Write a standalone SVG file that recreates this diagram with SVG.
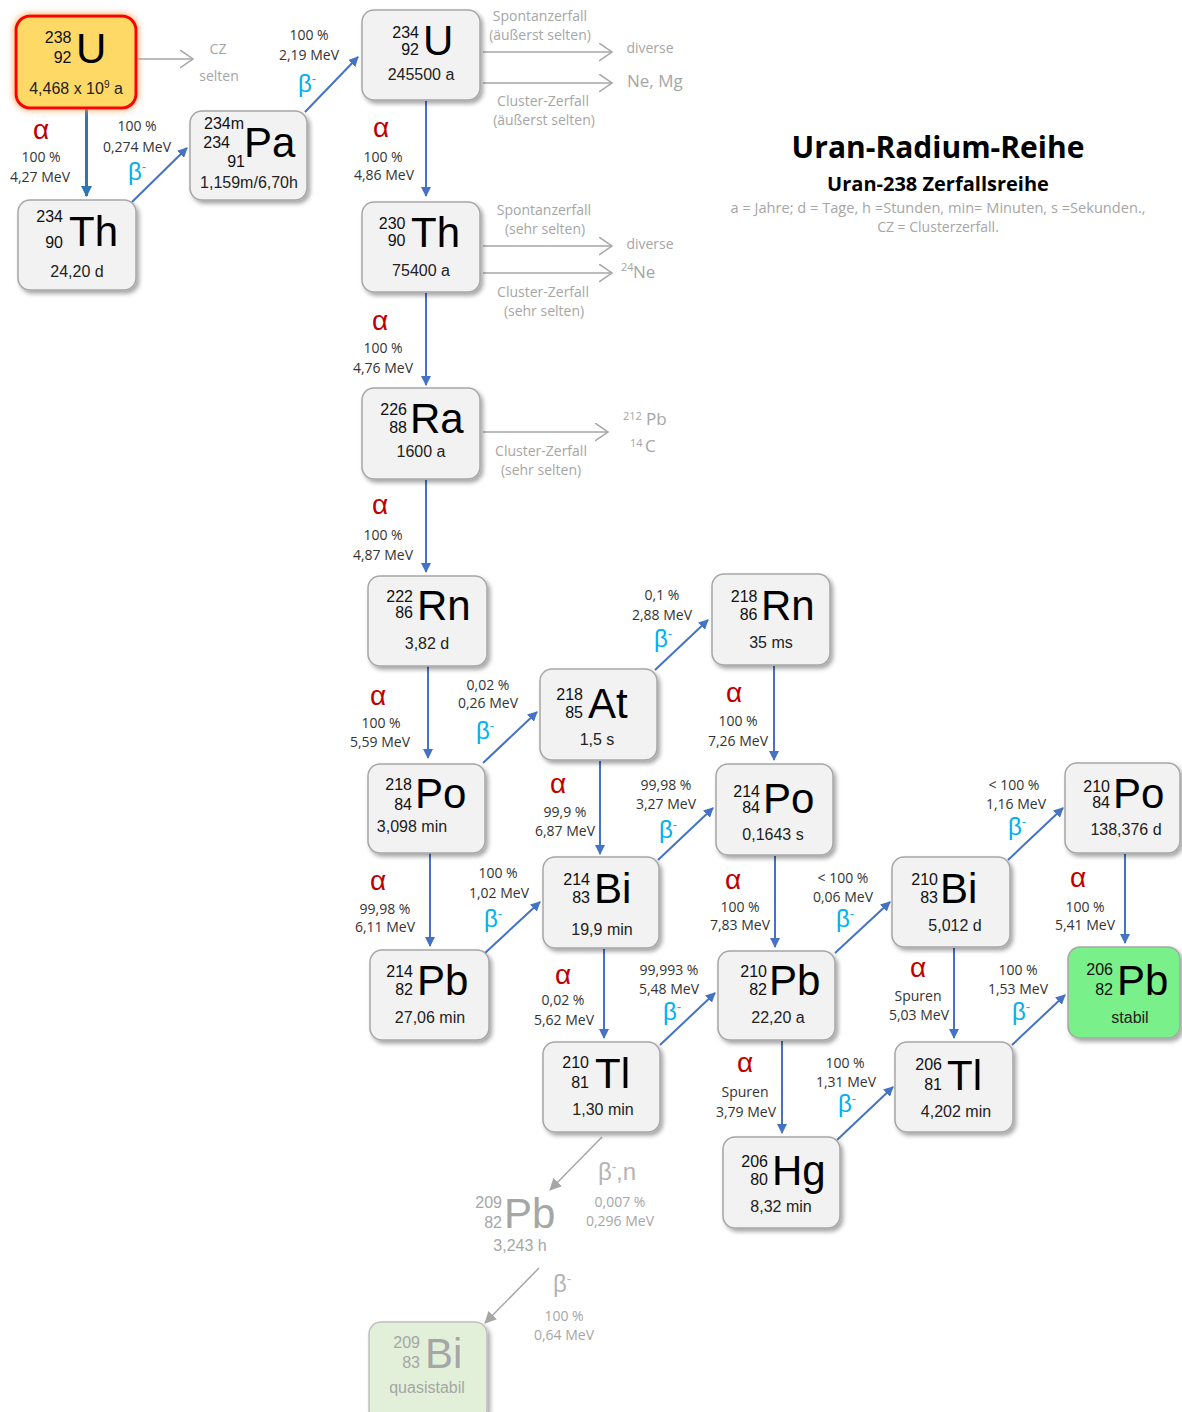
<svg xmlns="http://www.w3.org/2000/svg" width="1182" height="1412" viewBox="0 0 1182 1412">
<defs>
<style>
.box{fill:#F2F2F2;stroke:#A6A6A6;stroke-width:1.5}
.mass{font-family:"Liberation Sans",Arial,sans-serif;font-size:16px;text-anchor:end;fill:#111}
.sym{font-family:"Liberation Sans",Arial,sans-serif;font-size:42px;fill:#000}
.hl{font-family:"Liberation Sans",Arial,sans-serif;font-size:16px;text-anchor:middle;fill:#222}
.lbl{font-family:"Open Sans","Liberation Sans",sans-serif;font-size:14px;text-anchor:middle;fill:#333}
.alpha{font-family:"Liberation Sans",Arial,sans-serif;font-size:28px;text-anchor:middle;fill:#C00000}
.beta{font-family:"Liberation Sans",Arial,sans-serif;font-size:24px;text-anchor:middle;fill:#00B0F0}
.gl{font-family:"Open Sans","Liberation Sans",sans-serif;font-size:14px;text-anchor:middle;fill:#A6A6A6}
.gs{font-family:"Open Sans","Liberation Sans",sans-serif;font-size:17px;fill:#A6A6A6}
.gsup{font-family:"Open Sans","Liberation Sans",sans-serif;font-size:11px;fill:#A6A6A6}
.conn{stroke:#4472C4;stroke-width:2;fill:none}
.gconn{stroke:#A6A6A6;stroke-width:1.5;fill:none}
</style>
<filter id="sh" x="-10%" y="-10%" width="130%" height="130%"><feDropShadow dx="2.5" dy="3" stdDeviation="2" flood-color="#000" flood-opacity="0.35"/></filter>
<filter id="glow" x="-20%" y="-20%" width="140%" height="140%"><feDropShadow dx="0" dy="0" stdDeviation="3.5" flood-color="#F79646" flood-opacity="1"/></filter>
<marker id="ab" markerWidth="10" markerHeight="10" refX="9" refY="5" orient="auto" markerUnits="userSpaceOnUse"><path d="M0,0 L10,5 L0,10 z" fill="#4472C4"/></marker>
<marker id="ab2" markerWidth="11" markerHeight="11" refX="10" refY="5.5" orient="auto" markerUnits="userSpaceOnUse"><path d="M0,0 L11,5.5 L0,11 z" fill="#2E75B6"/></marker>
<marker id="ag" markerWidth="15" markerHeight="20" refX="13" refY="9" orient="auto" markerUnits="userSpaceOnUse"><path d="M0,0 L13,9 L0,18" fill="none" stroke="#A6A6A6" stroke-width="1.5"/></marker>
<marker id="agf" markerWidth="12" markerHeight="12" refX="11" refY="6" orient="auto" markerUnits="userSpaceOnUse"><path d="M0,0 L12,6 L0,12 z" fill="#A6A6A6"/></marker>
</defs>
<rect width="1182" height="1412" fill="#FFFFFF"/>

<g id="title">
<text x="938" y="158" font-family="'Open Sans','Liberation Sans',sans-serif" font-weight="bold" font-size="30" text-anchor="middle" fill="#000">Uran-Radium-Reihe</text>
<text x="938" y="191" font-family="'Open Sans','Liberation Sans',sans-serif" font-weight="bold" font-size="20" text-anchor="middle" fill="#000">Uran-238 Zerfallsreihe</text>
<text x="938" y="213" font-family="'Open Sans','Liberation Sans',sans-serif" font-size="14" text-anchor="middle" fill="#A6A6A6" textLength="415" lengthAdjust="spacingAndGlyphs">a = Jahre; d = Tage, h =Stunden, min= Minuten, s =Sekunden.,</text>
<text x="938" y="232" font-family="'Open Sans','Liberation Sans',sans-serif" font-size="14" text-anchor="middle" fill="#A6A6A6">CZ = Clusterzerfall.</text>
</g>

<g id="connectors">
<line x1="86.5" y1="108" x2="86.5" y2="196" stroke="#2E75B6" stroke-width="3" marker-end="url(#ab2)"/>
<line class="conn" x1="132" y1="202" x2="187" y2="148" marker-end="url(#ab)"/>
<line class="conn" x1="305" y1="112" x2="358" y2="57" marker-end="url(#ab)"/>
<line class="conn" x1="426" y1="101" x2="426" y2="196" marker-end="url(#ab)"/>
<line class="conn" x1="426" y1="293" x2="426" y2="385" marker-end="url(#ab)"/>
<line class="conn" x1="426" y1="480" x2="426" y2="572" marker-end="url(#ab)"/>
<line class="conn" x1="428" y1="666" x2="428" y2="758" marker-end="url(#ab)"/>
<line class="conn" x1="483" y1="763" x2="537" y2="712" marker-end="url(#ab)"/>
<line class="conn" x1="655" y1="670" x2="708" y2="620" marker-end="url(#ab)"/>
<line class="conn" x1="600" y1="761" x2="600" y2="854" marker-end="url(#ab)"/>
<line class="conn" x1="774" y1="666" x2="774" y2="760" marker-end="url(#ab)"/>
<line class="conn" x1="430" y1="853" x2="430" y2="946" marker-end="url(#ab)"/>
<line class="conn" x1="485" y1="953" x2="540" y2="902" marker-end="url(#ab)"/>
<line class="conn" x1="658" y1="860" x2="713" y2="808" marker-end="url(#ab)"/>
<line class="conn" x1="775" y1="856" x2="775" y2="947" marker-end="url(#ab)"/>
<line class="conn" x1="604" y1="949" x2="604" y2="1038" marker-end="url(#ab)"/>
<line class="conn" x1="660" y1="1045" x2="715" y2="993" marker-end="url(#ab)"/>
<line class="conn" x1="835" y1="953" x2="890" y2="902" marker-end="url(#ab)"/>
<line class="conn" x1="782" y1="1041" x2="782" y2="1133" marker-end="url(#ab)"/>
<line class="conn" x1="837" y1="1140" x2="893" y2="1087" marker-end="url(#ab)"/>
<line class="conn" x1="1008" y1="860" x2="1063" y2="808" marker-end="url(#ab)"/>
<line class="conn" x1="954" y1="948" x2="954" y2="1038" marker-end="url(#ab)"/>
<line class="conn" x1="1125" y1="854" x2="1125" y2="943" marker-end="url(#ab)"/>
<line class="conn" x1="1012" y1="1045" x2="1065" y2="995" marker-end="url(#ab)"/>
<line class="gconn" x1="602" y1="1137" x2="550" y2="1190" stroke-width="2" marker-end="url(#agf)"/>
<line class="gconn" x1="539" y1="1268" x2="485" y2="1323" stroke-width="2" marker-end="url(#agf)"/>
<line class="gconn" x1="137" y1="59" x2="193" y2="59" marker-end="url(#ag)"/>
<line class="gconn" x1="483" y1="52" x2="612" y2="52" marker-end="url(#ag)"/>
<line class="gconn" x1="483" y1="83" x2="612" y2="83" marker-end="url(#ag)"/>
<line class="gconn" x1="483" y1="246" x2="612" y2="246" marker-end="url(#ag)"/>
<line class="gconn" x1="483" y1="273" x2="612" y2="273" marker-end="url(#ag)"/>
<line class="gconn" x1="483" y1="432" x2="608" y2="432" marker-end="url(#ag)"/>
</g>

<g id="labels">
<text class="alpha" x="41" y="139">α</text><text class="lbl" x="41" y="162">100 %</text><text class="lbl" x="40" y="182">4,27 MeV</text>
<text class="lbl" x="137" y="131">100 %</text><text class="lbl" x="137" y="152">0,274 MeV</text><text class="beta" x="137" y="180">β<tspan font-size="13" dy="-9">-</tspan></text>
<text class="lbl" x="309" y="40">100 %</text><text class="lbl" x="309" y="60">2,19 MeV</text><text class="beta" x="307" y="92">β<tspan font-size="13" dy="-9">-</tspan></text>
<text class="gl" x="218" y="54">CZ</text><text class="gl" x="219" y="81">selten</text>
<text class="alpha" x="381" y="137">α</text><text class="lbl" x="383" y="162">100 %</text><text class="lbl" x="384" y="180">4,86 MeV</text>
<text class="gl" x="540" y="21">Spontanzerfall</text><text class="gl" x="540" y="40">(äußerst selten)</text><text class="gl" x="650" y="53">diverse</text>
<text class="gs" x="627" y="87">Ne, Mg</text>
<text class="gl" x="543" y="106">Cluster-Zerfall</text><text class="gl" x="544" y="125">(äußerst selten)</text>
<text class="alpha" x="380" y="330">α</text><text class="lbl" x="383" y="353">100 %</text><text class="lbl" x="383" y="373">4,76 MeV</text>
<text class="gl" x="544" y="215">Spontanzerfall</text><text class="gl" x="545" y="234">(sehr selten)</text><text class="gl" x="650" y="249">diverse</text>
<text class="gsup" x="621" y="271">24</text><text class="gs" x="633" y="278">Ne</text>
<text class="gl" x="543" y="297">Cluster-Zerfall</text><text class="gl" x="544" y="316">(sehr selten)</text>
<text class="gsup" x="623" y="420">212</text><text class="gs" x="646" y="425">Pb</text>
<text class="gsup" x="630" y="447">14</text><text class="gs" x="645" y="452">C</text>
<text class="gl" x="541" y="456">Cluster-Zerfall</text><text class="gl" x="541" y="475">(sehr selten)</text>
<text class="alpha" x="380" y="514">α</text><text class="lbl" x="383" y="540">100 %</text><text class="lbl" x="383" y="560">4,87 MeV</text>
<text class="alpha" x="378" y="705">α</text><text class="lbl" x="381" y="728">100 %</text><text class="lbl" x="380" y="747">5,59 MeV</text>
<text class="lbl" x="488" y="690">0,02 %</text><text class="lbl" x="488" y="708">0,26 MeV</text><text class="beta" x="485" y="739">β<tspan font-size="13" dy="-9">-</tspan></text>
<text class="lbl" x="662" y="600">0,1 %</text><text class="lbl" x="662" y="620">2,88 MeV</text><text class="beta" x="663" y="647">β<tspan font-size="13" dy="-9">-</tspan></text>
<text class="alpha" x="558" y="793">α</text><text class="lbl" x="565" y="817">99,9 %</text><text class="lbl" x="565" y="836">6,87 MeV</text>
<text class="alpha" x="734" y="702">α</text><text class="lbl" x="738" y="726">100 %</text><text class="lbl" x="738" y="746">7,26 MeV</text>
<text class="alpha" x="378" y="890">α</text><text class="lbl" x="385" y="914">99,98 %</text><text class="lbl" x="385" y="932">6,11 MeV</text>
<text class="lbl" x="498" y="878">100 %</text><text class="lbl" x="499" y="898">1,02 MeV</text><text class="beta" x="493" y="927">β<tspan font-size="13" dy="-9">-</tspan></text>
<text class="lbl" x="666" y="790">99,98 %</text><text class="lbl" x="666" y="809">3,27 MeV</text><text class="beta" x="668" y="838">β<tspan font-size="13" dy="-9">-</tspan></text>
<text class="alpha" x="733" y="889">α</text><text class="lbl" x="740" y="912">100 %</text><text class="lbl" x="740" y="930">7,83 MeV</text>
<text class="alpha" x="563" y="984">α</text><text class="lbl" x="563" y="1005">0,02 %</text><text class="lbl" x="564" y="1025">5,62 MeV</text>
<text class="lbl" x="669" y="975">99,993 %</text><text class="lbl" x="669" y="994">5,48 MeV</text><text class="beta" x="672" y="1020">β<tspan font-size="13" dy="-9">-</tspan></text>
<text class="lbl" x="843" y="883">&lt; 100 %</text><text class="lbl" x="843" y="902">0,06 MeV</text><text class="beta" x="845" y="927">β<tspan font-size="13" dy="-9">-</tspan></text>
<text class="alpha" x="745" y="1072">α</text><text class="lbl" x="745" y="1097">Spuren</text><text class="lbl" x="746" y="1117">3,79 MeV</text>
<text class="lbl" x="845" y="1068">100 %</text><text class="lbl" x="846" y="1087">1,31 MeV</text><text class="beta" x="847" y="1112">β<tspan font-size="13" dy="-9">-</tspan></text>
<text class="lbl" x="1014" y="790">&lt; 100 %</text><text class="lbl" x="1016" y="809">1,16 MeV</text><text class="beta" x="1017" y="835">β<tspan font-size="13" dy="-9">-</tspan></text>
<text class="alpha" x="918" y="977">α</text><text class="lbl" x="918" y="1001">Spuren</text><text class="lbl" x="919" y="1020">5,03 MeV</text>
<text class="alpha" x="1078" y="887">α</text><text class="lbl" x="1085" y="912">100 %</text><text class="lbl" x="1085" y="930">5,41 MeV</text>
<text class="lbl" x="1018" y="975">100 %</text><text class="lbl" x="1018" y="994">1,53 MeV</text><text class="beta" x="1021" y="1020">β<tspan font-size="13" dy="-9">-</tspan></text>
<text class="beta" x="617" y="1180" style="fill:#B4B4B4">β<tspan font-size="13" dy="-9">-</tspan><tspan dy="9">,n</tspan></text>
<text class="gl" x="620" y="1207">0,007 %</text><text class="gl" x="620" y="1226">0,296 MeV</text>
<text class="beta" x="562" y="1292" style="fill:#B4B4B4">β<tspan font-size="13" dy="-9">-</tspan></text>
<text class="gl" x="564" y="1321">100 %</text><text class="gl" x="564" y="1340">0,64 MeV</text>
</g>

<g id="U238">
<rect x="16" y="16" width="120" height="92" rx="14" fill="#FFD966" stroke="#FF0000" stroke-width="3" filter="url(#glow)"/>
<text class="mass" x="71.5" y="43">238</text><text class="mass" x="71.5" y="63">92</text><text class="sym" x="76" y="63">U</text>
<text class="hl" x="76" y="94">4,468 x 10<tspan font-size="10" dy="-6">9</tspan><tspan dy="6"> a</tspan></text>
</g>
<g id="Th234">
<rect class="box" x="18" y="200" width="118" height="90" rx="12" filter="url(#sh)"/>
<text class="mass" x="63" y="222">234</text><text class="mass" x="63" y="248">90</text><text class="sym" x="69" y="246">Th</text>
<text class="hl" x="77" y="277">24,20 d</text>
</g>
<g id="Pa234">
<rect class="box" x="190" y="111" width="117" height="89" rx="12" filter="url(#sh)"/>
<text class="mass" x="204" y="129" style="text-anchor:start">234m</text><text class="mass" x="230" y="148">234</text><text class="mass" x="245" y="167">91</text>
<text class="sym" x="244" y="157">Pa</text>
<text class="hl" x="249" y="188">1,159m/6,70h</text>
</g>
<g id="U234">
<rect class="box" x="362" y="10" width="118" height="90" rx="12" filter="url(#sh)"/>
<text class="mass" x="419" y="38">234</text><text class="mass" x="419" y="55">92</text><text class="sym" x="423" y="55">U</text>
<text class="hl" x="421" y="80">245500 a</text>
</g>
<g id="Th230">
<rect class="box" x="362" y="202" width="118" height="90" rx="12" filter="url(#sh)"/>
<text class="mass" x="405.5" y="229">230</text><text class="mass" x="405.5" y="246">90</text><text class="sym" x="411" y="247">Th</text>
<text class="hl" x="421" y="276">75400 a</text>
</g>
<g id="Ra226">
<rect class="box" x="362" y="388" width="118" height="91" rx="12" filter="url(#sh)"/>
<text class="mass" x="407" y="415">226</text><text class="mass" x="407" y="433">88</text><text class="sym" x="410" y="433">Ra</text>
<text class="hl" x="421" y="457">1600 a</text>
</g>
<g id="Rn222">
<rect class="box" x="368" y="576" width="119" height="90" rx="12" filter="url(#sh)"/>
<text class="mass" x="413" y="602">222</text><text class="mass" x="413" y="618">86</text><text class="sym" x="417" y="620">Rn</text>
<text class="hl" x="427" y="649">3,82 d</text>
</g>
<g id="Po218">
<rect class="box" x="368" y="764" width="117" height="89" rx="12" filter="url(#sh)"/>
<text class="mass" x="412" y="790">218</text><text class="mass" x="412" y="810">84</text><text class="sym" x="415" y="808">Po</text>
<text class="hl" x="412" y="832">3,098 min</text>
</g>
<g id="Pb214">
<rect class="box" x="370" y="950" width="119" height="90" rx="12" filter="url(#sh)"/>
<text class="mass" x="413" y="977">214</text><text class="mass" x="413" y="995">82</text><text class="sym" x="417" y="995">Pb</text>
<text class="hl" x="430" y="1023">27,06 min</text>
</g>
<g id="At218">
<rect class="box" x="540" y="669" width="117" height="91" rx="12" filter="url(#sh)"/>
<text class="mass" x="583" y="700">218</text><text class="mass" x="583" y="718">85</text><text class="sym" x="588" y="718">At</text>
<text class="hl" x="597" y="745">1,5 s</text>
</g>
<g id="Rn218">
<rect class="box" x="712" y="574" width="118" height="91" rx="12" filter="url(#sh)"/>
<text class="mass" x="757.5" y="602">218</text><text class="mass" x="757.5" y="620">86</text><text class="sym" x="761" y="620">Rn</text>
<text class="hl" x="771" y="648">35 ms</text>
</g>
<g id="Bi214">
<rect class="box" x="543" y="857" width="116" height="91" rx="12" filter="url(#sh)"/>
<text class="mass" x="590" y="885">214</text><text class="mass" x="590" y="903">83</text><text class="sym" x="594" y="903">Bi</text>
<text class="hl" x="602" y="935">19,9 min</text>
</g>
<g id="Po214">
<rect class="box" x="716" y="764" width="117" height="91" rx="12" filter="url(#sh)"/>
<text class="mass" x="760" y="797">214</text><text class="mass" x="760" y="813">84</text><text class="sym" x="763" y="813">Po</text>
<text class="hl" x="773" y="840">0,1643 s</text>
</g>
<g id="Tl210">
<rect class="box" x="543" y="1042" width="117" height="90" rx="12" filter="url(#sh)"/>
<text class="mass" x="589" y="1068">210</text><text class="mass" x="589" y="1088">81</text><text class="sym" x="595" y="1088">Tl</text>
<text class="hl" x="603" y="1115">1,30 min</text>
</g>
<g id="Pb210">
<rect class="box" x="718" y="951" width="117" height="89" rx="12" filter="url(#sh)"/>
<text class="mass" x="767" y="977">210</text><text class="mass" x="767" y="995">82</text><text class="sym" x="769" y="995">Pb</text>
<text class="hl" x="778" y="1023">22,20 a</text>
</g>
<g id="Hg206">
<rect class="box" x="723" y="1137" width="117" height="91" rx="12" filter="url(#sh)"/>
<text class="mass" x="768" y="1167">206</text><text class="mass" x="768" y="1185">80</text><text class="sym" x="772" y="1185">Hg</text>
<text class="hl" x="781" y="1212">8,32 min</text>
</g>
<g id="Tl206">
<rect class="box" x="895" y="1042" width="118" height="90" rx="12" filter="url(#sh)"/>
<text class="mass" x="942" y="1070">206</text><text class="mass" x="942" y="1090">81</text><text class="sym" x="947" y="1090">Tl</text>
<text class="hl" x="956" y="1117">4,202 min</text>
</g>
<g id="Bi210">
<rect class="box" x="892" y="857" width="118" height="90" rx="12" filter="url(#sh)"/>
<text class="mass" x="938" y="885">210</text><text class="mass" x="938" y="903">83</text><text class="sym" x="940" y="903">Bi</text>
<text class="hl" x="955" y="931">5,012 d</text>
</g>
<g id="Po210">
<rect class="box" x="1065" y="763" width="115" height="90" rx="12" filter="url(#sh)"/>
<text class="mass" x="1110" y="792">210</text><text class="mass" x="1110" y="808">84</text><text class="sym" x="1113" y="808">Po</text>
<text class="hl" x="1126" y="835">138,376 d</text>
</g>
<g id="Pb206">
<rect x="1068" y="947" width="112" height="91" rx="12" fill="#7AF08A" stroke="#A6A6A6" stroke-width="1.5" filter="url(#sh)"/>
<text class="mass" x="1113" y="975">206</text><text class="mass" x="1113" y="995">82</text><text class="sym" x="1117" y="995">Pb</text>
<text class="hl" x="1130" y="1023">stabil</text>
</g>
<g id="Pb209">
<text class="mass" x="502" y="1208" style="fill:#A6A6A6">209</text><text class="mass" x="502" y="1228" style="fill:#A6A6A6">82</text>
<text class="sym" x="504" y="1228" style="fill:#A6A6A6">Pb</text>
<text class="hl" x="520" y="1251" style="fill:#A6A6A6">3,243 h</text>
</g>
<g id="Bi209">
<rect x="369" y="1322" width="118" height="100" rx="12" fill="#E2F0D9" stroke="#BFBFBF" stroke-width="1.5" filter="url(#sh)"/>
<text class="mass" x="420" y="1348" style="fill:#A6A6A6">209</text><text class="mass" x="420" y="1368" style="fill:#A6A6A6">83</text>
<text class="sym" x="425" y="1368" style="fill:#A6A6A6">Bi</text>
<text class="hl" x="427" y="1393" style="fill:#A6A6A6">quasistabil</text>
</g>
</svg>
